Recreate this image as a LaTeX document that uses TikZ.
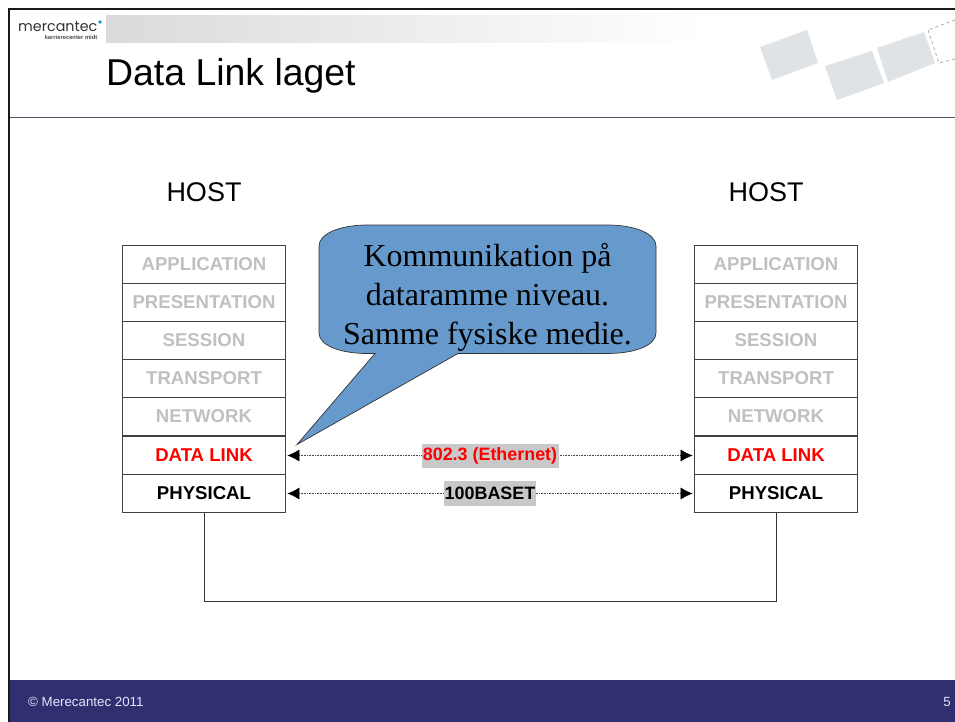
\documentclass[tikz,border=0pt]{standalone}
\usepackage{fontspec}
\setmainfont{Liberation Sans}
\newfontfamily\serifface{Liberation Serif}
\newfontfamily\logoface{Poppins}
\usetikzlibrary{arrows.meta}
\definecolor{footerblue}{HTML}{303070}
\definecolor{rulegrey}{HTML}{55556A}
\definecolor{barstart}{HTML}{DADADA}
\definecolor{calloutblue}{HTML}{6699CC}
\definecolor{tile}{HTML}{E0E3E5}
\definecolor{fadetext}{HTML}{C0C0C0}
\definecolor{labelgrey}{HTML}{C8C8C8}
\tikzset{
  x=1pt,y=1pt,
  layerbox/.style={draw=black!75,line width=.7pt,fill=white,minimum width=163pt,minimum height=38pt,inner sep=0pt,anchor=center,font=\fontsize{18.6}{22}\selectfont\bfseries},
  faded/.style={layerbox,text=fadetext},
  redlayer/.style={layerbox,text=red},
  blacklayer/.style={layerbox,text=black},
  hosttext/.style={font=\fontsize{27}{30}\selectfont,inner sep=0pt},
  linkarrow/.style={black!70,line width=.6pt,densely dotted,{Latex[length=12pt,width=12pt,black]}-{Latex[length=12pt,width=12pt,black]},shorten <=1.5pt,shorten >=1.5pt},
  linklabel/.style={fill=labelgrey,inner sep=0pt,font=\fontsize{17.9}{22}\selectfont\bfseries},
  tileshape/.style={fill=tile,draw=none},
}
\begin{document}
\begin{tikzpicture}
\useasboundingbox (0,0) rectangle (955,-722);
\fill[white] (0,0) rectangle (955,-722);
% top bar
\shade[left color=barstart,right color=white] (106,-16) rectangle (700,-43);
% frame
\fill[footerblue] (10,-680) rectangle (955,-722);
\draw[rulegrey,line width=1pt] (10,-118) -- (955,-118);
\fill[black!90] (8,-10) rectangle (955,-8.5);
\fill[black!90] (8,-8.5) rectangle (10,-722);
% logo
\node[inner sep=0pt,anchor=west,font=\logoface\fontsize{14.3}{15}\selectfont,text=black!80] (logo) at (18,-27) {mercantec};
\fill[cyan!80!blue] (100,-22) circle (1.8);
\node[inner sep=0pt,anchor=east,font=\fontsize{5.8}{6}\selectfont\bfseries,text=black!70] (logosub) at (97.5,-37.5) {karrierecenter midt};
% title
\node[inner sep=0pt,anchor=west,font=\fontsize{37.4}{40}\selectfont] (title) at (106,-75.5) {Data Link laget};
% corner tiles
\fill[tileshape] (760,-47) -- (807,-30) -- (818,-63) -- (772,-80) -- cycle;
\fill[tileshape] (825,-66) -- (872,-51) -- (884,-83) -- (837,-100) -- cycle;
\fill[tileshape] (877,-48) -- (924,-32) -- (935,-63) -- (888,-82) -- cycle;
\draw[gray!60,line width=.9pt,dashed] (955,-20) -- (928,-30) ;
\draw[gray!60,line width=.9pt,dashed] (928,-30) -- (939,-63) -- (955,-59);
% hosts
\node[hosttext] (hostL) at (204,-192) {HOST};
\node[hosttext] (hostR) at (766,-192) {HOST};
% left stack
\node[faded] (aL) at (204,-264.5) {APPLICATION};
\node[faded] (pL) at (204,-302.5) {PRESENTATION};
\node[faded] (sL) at (204,-340.5) {SESSION};
\node[faded] (tL) at (204,-378.5) {TRANSPORT};
\node[faded] (nL) at (204,-416.5) {NETWORK};
\node[redlayer] (dL) at (204,-455.5) {DATA LINK};
\node[blacklayer] (fL) at (204,-493.5) {PHYSICAL};
% right stack
\node[faded] (aR) at (776,-264.5) {APPLICATION};
\node[faded] (pR) at (776,-302.5) {PRESENTATION};
\node[faded] (sR) at (776,-340.5) {SESSION};
\node[faded] (tR) at (776,-378.5) {TRANSPORT};
\node[faded] (nR) at (776,-416.5) {NETWORK};
\node[redlayer] (dR) at (776,-455.5) {DATA LINK};
\node[blacklayer] (fR) at (776,-493.5) {PHYSICAL};
% connectors
\draw[linkarrow] (dL.east) -- (dR.west) node[midway,linklabel,text=red,minimum width=137pt,minimum height=24pt] (lblA) {802.3 (Ethernet)};
\draw[linkarrow] (fL.east) -- (fR.west) node[midway,linklabel,text=black,minimum width=92pt,minimum height=25pt] (lblB) {100BASET};
\draw[black!80,line width=.8pt] (fL.south) -- ++(0,-89) -| (fR.south);
% callout
\filldraw[fill=calloutblue,draw=black!80,line width=.7pt]
  (368,-225) -- (607,-225)
  .. controls (636,-225) and (656,-234) .. (656,-246)
  -- (656,-333)
  .. controls (656,-345) and (636,-353.5) .. (607,-353.5)
  -- (458,-353.5) -- (297,-444.5) -- (375,-353.5) -- (368,-353.5)
  .. controls (339,-353.5) and (319,-345) .. (319,-333)
  -- (319,-246)
  .. controls (319,-234) and (339,-225) .. (368,-225) -- cycle;
\node[inner sep=0pt,align=center,font=\serifface\fontsize{32}{39}\selectfont] (note) at (487.5,-297) {Kommunikation på\\dataramme niveau.\\Samme fysiske medie.};
% footer text
\node[inner sep=0pt,anchor=west,text=white!90!blue,font=\fontsize{13.3}{14}\selectfont] (foot) at (28,-702) {© Merecantec 2011};
\node[inner sep=0pt,anchor=east,text=white!90!blue,font=\fontsize{13.3}{14}\selectfont] (pg) at (951,-702) {5};
\end{tikzpicture}
\end{document}
